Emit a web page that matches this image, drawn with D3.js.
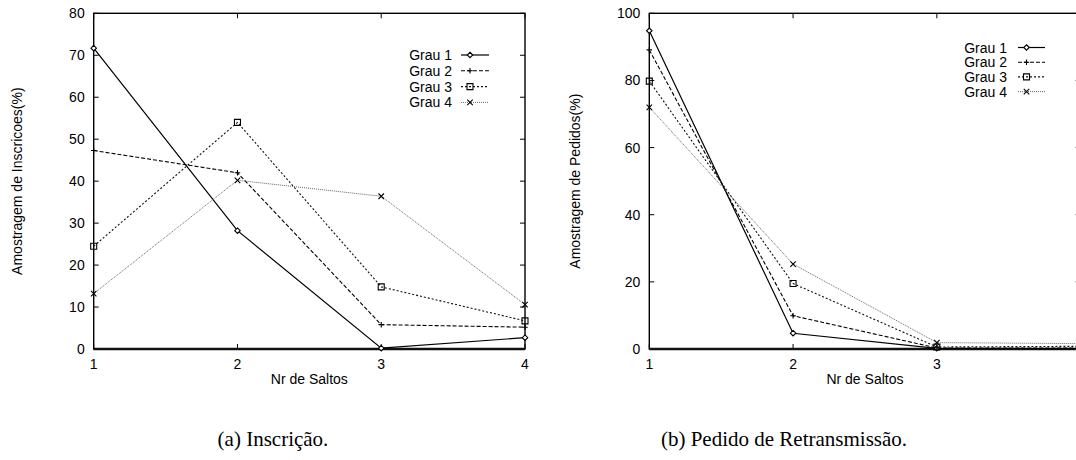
<!DOCTYPE html>
<html><head><meta charset="utf-8">
<script src="https://cdn.jsdelivr.net/npm/d3@7"></script>
<style>
body{margin:0;background:#fff;}
svg{display:block;font-family:"Liberation Sans",Arial,sans-serif;}
</style></head>
<body>
<svg id="c" width="1076" height="460"></svg>
<script>
// ---- data ----
const hops = [1, 2, 3, 4];
const seriesNames = ["Grau 1", "Grau 2", "Grau 3", "Grau 4"];
const ticksA = [0, 10, 20, 30, 40, 50, 60, 70, 80];
const ticksB = [0, 20, 40, 60, 80, 100];
// (a) Inscrição
const inscGrau1 = [71.7, 28.2, 0.2, 2.7];
const inscGrau2 = [47.3, 42.0, 5.8, 5.2];
const inscGrau3 = [24.5, 54.0, 14.8, 6.7];
const inscGrau4 = [13.2, 40.2, 36.4, 10.6];
// (b) Pedido de Retransmissão
const pedGrau1 = [94.8, 4.7, 0.2, 0.1];
const pedGrau2 = [89.1, 9.9, 0.3, 0.3];
const pedGrau3 = [79.8, 19.5, 0.6, 0.8];
const pedGrau4 = [72.0, 25.3, 1.9, 1.6];

const styles = [
  {dash: null, color: "#000", width: 1.2, marker: "diamond"},
  {dash: "4,2", color: "#000", width: 1.1, marker: "plus"},
  {dash: "2,2", color: "#111", width: 1.1, marker: "square"},
  {dash: "1,1", color: "#666", width: 1.0, marker: "x"}
];

const svg = d3.select("#c");
const W = 1076;

function markerPath(type, s) {
  const h = s / 2;
  switch (type) {
    case "diamond": return `M0,${-h}L${h},0L0,${h}L${-h},0Z`;
    case "plus": return `M${-h},0L${h},0M0,${-h}L0,${h}`;
    case "square": return `M${-h},${-h}L${h},${-h}L${h},${h}L${-h},${h}Z`;
    case "x": return `M${-h},${-h}L${h},${h}M${-h},${h}L${h},${-h}`;
  }
}

function panel(opt) {
  const g = svg.append("g");
  const x = d3.scaleLinear().domain([1, 4]).range([opt.x0, opt.x1]);
  const y = d3.scaleLinear().domain([0, opt.ymax]).range([opt.y1, opt.y0]);
  const tl = 5;
  opt.yt.forEach(v => {
    g.append("line").attr("x1", x(1)).attr("x2", x(1) + tl).attr("y1", y(v)).attr("y2", y(v)).attr("stroke", "#000");
    g.append("line").attr("x1", x(4)).attr("x2", x(4) - tl).attr("y1", y(v)).attr("y2", y(v)).attr("stroke", "#000");
    g.append("text").attr("x", x(1) - 9).attr("y", y(v) + 5).attr("text-anchor", "end")
      .attr("font-size", 14).text(v);
  });
  hops.forEach(v => {
    g.append("line").attr("x1", x(v)).attr("x2", x(v)).attr("y1", y(0)).attr("y2", y(0) - tl).attr("stroke", "#000");
    g.append("line").attr("x1", x(v)).attr("x2", x(v)).attr("y1", y(opt.ymax)).attr("y2", y(opt.ymax) + tl).attr("stroke", "#000");
    if (x(v) + 5 < W) {
      g.append("text").attr("x", x(v)).attr("y", 369).attr("text-anchor", "middle")
        .attr("font-size", 14).text(v);
    }
  });
  g.append("rect").attr("x", x(1)).attr("y", y(opt.ymax)).attr("width", x(4) - x(1)).attr("height", y(0) - y(opt.ymax))
    .attr("fill", "none").attr("stroke", "#000").attr("stroke-width", 1.4);
  g.append("line").attr("x1", x(1)).attr("x2", x(4)).attr("y1", y(0)).attr("y2", y(0)).attr("stroke", "#111").attr("stroke-width", 2.4);
  g.append("text").attr("x", (x(1) + x(4)) / 2).attr("y", 384).attr("text-anchor", "middle").attr("font-size", 14).text("Nr de Saltos");
  g.append("text").attr("transform", `translate(${opt.ylabX},${(y(0) + y(opt.ymax)) / 2}) rotate(-90)`)
    .attr("text-anchor", "middle").attr("font-size", 14).text(opt.ylabel);
  const line = d3.line().x((d, i) => x(hops[i])).y(d => y(d));
  opt.series.forEach((s, k) => {
    const st = styles[k];
    g.append("path").attr("d", line(s)).attr("fill", "none").attr("stroke", st.color)
      .attr("stroke-width", st.width).attr("stroke-dasharray", st.dash);
    s.forEach((v, i) => {
      g.append("path").attr("transform", `translate(${x(hops[i])},${y(v)})`)
        .attr("d", markerPath(st.marker, st.marker === "square" ? 6 : 5.5))
        .attr("fill", st.marker === "diamond" ? "#fff" : "none").attr("stroke", "#000").attr("stroke-width", 1.1);
    });
  });
  seriesNames.forEach((n, k) => {
    const st = styles[k];
    const ly = opt.legY + k * opt.legDy;
    g.append("text").attr("x", opt.legTextX).attr("y", ly + 5).attr("text-anchor", "end").attr("font-size", 14).text(n);
    g.append("line").attr("x1", opt.legL0).attr("x2", opt.legL1).attr("y1", ly).attr("y2", ly)
      .attr("stroke", st.color).attr("stroke-width", st.width).attr("stroke-dasharray", st.dash);
    g.append("path").attr("transform", `translate(${(opt.legL0 + opt.legL1) / 2 - 5},${ly})`)
      .attr("d", markerPath(st.marker, st.marker === "square" ? 6 : 5.5))
      .attr("fill", st.marker === "diamond" ? "#fff" : "none").attr("stroke", "#000").attr("stroke-width", 1.1);
  });
  svg.append("text").attr("x", opt.capX).attr("y", 446).attr("text-anchor", "middle")
    .style("font-family", "'Liberation Serif','DejaVu Serif',serif").style("font-size", "21px").text(opt.caption);
}

panel({x0: 93.7, x1: 525, y0: 13.3, y1: 349, ymax: 80, yt: ticksA, ylabX: 22,
  ylabel: "Amostragem de Inscricoes(%)",
  series: [inscGrau1, inscGrau2, inscGrau3, inscGrau4],
  legY: 55, legDy: 15.8, legTextX: 452, legL0: 461, legL1: 489,
  capX: 273, caption: "(a) Inscrição."});

panel({x0: 649.3, x1: 1080.6, y0: 13.3, y1: 349, ymax: 100, yt: ticksB, ylabX: 580,
  ylabel: "Amostragem de Pedidos(%)",
  series: [pedGrau1, pedGrau2, pedGrau3, pedGrau4],
  legY: 47.5, legDy: 14.7, legTextX: 1007, legL0: 1018, legL1: 1045,
  capX: 784, caption: "(b) Pedido de Retransmissão."});
</script>
</body></html>
